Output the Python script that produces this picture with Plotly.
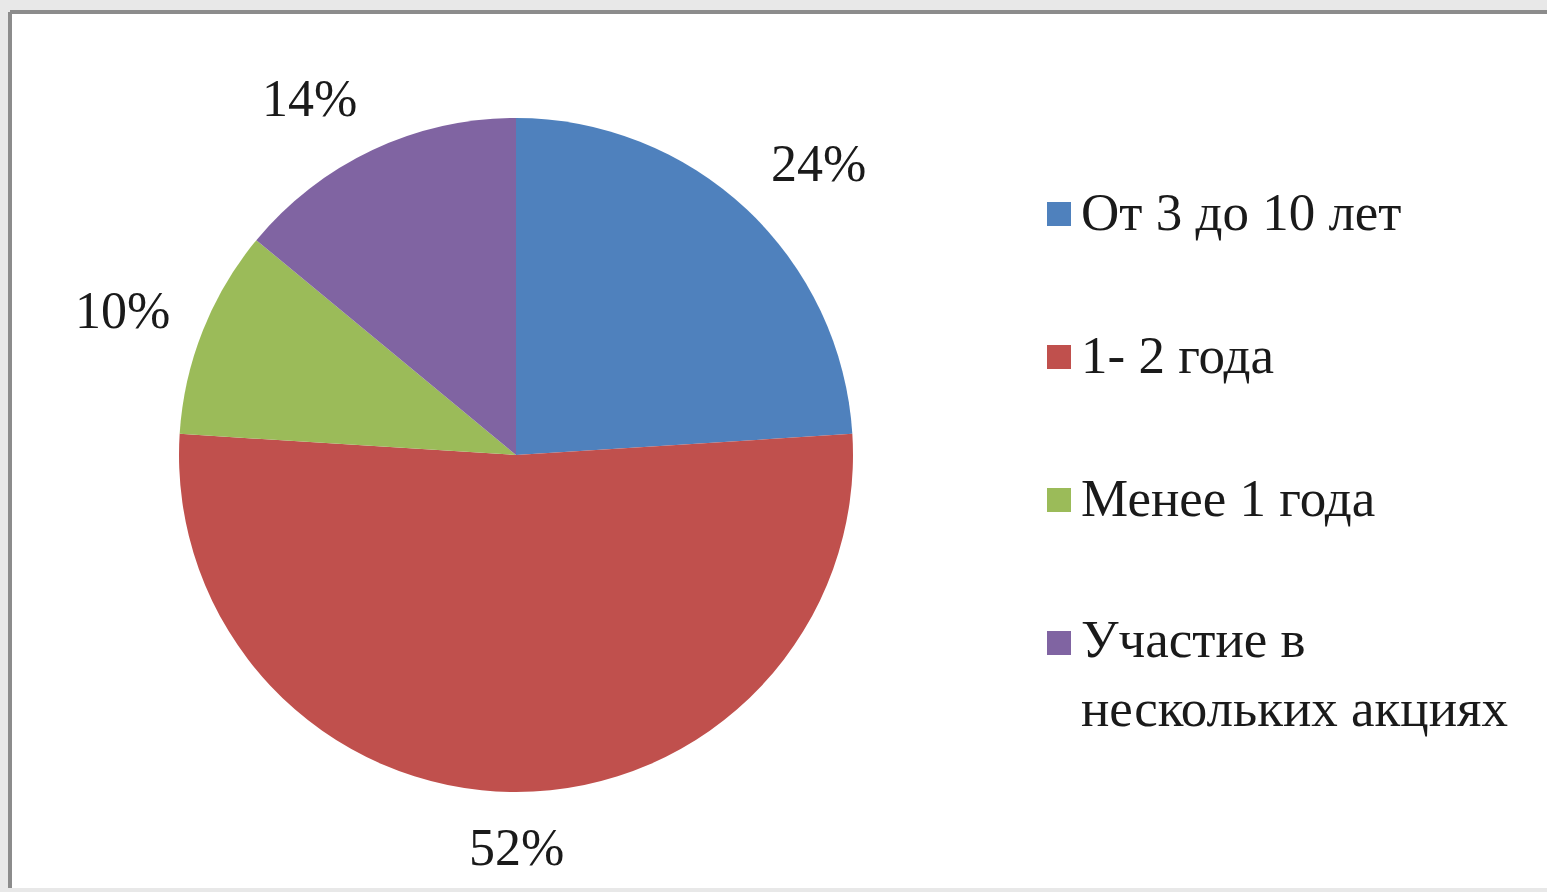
import math
import textwrap
import plotly.graph_objects as go

# ---- data ----
categories = ["От 3 до 10 лет", "1- 2 года", "Менее 1 года", "Участие в нескольких акциях"]
values = [24, 52, 10, 14]
colors = ["#4F81BD", "#C0504D", "#9BBB59", "#8064A2"]

W, H = 1547, 892
FONT = "Liberation Serif, Times New Roman, serif"

# pie geometry (pixels)
cx, cy, R = 516, 455, 337

def px(x):
    return x / W

def py(y):
    return 1 - y / H

fig = go.Figure()
fig.add_trace(go.Pie(
    labels=categories,
    values=values,
    sort=False,
    direction="clockwise",
    rotation=0,
    marker=dict(colors=colors, line=dict(width=0)),
    textinfo="none",
    hoverinfo="label+percent",
    showlegend=False,
    domain=dict(x=[px(cx - R), px(cx + R)], y=[py(cy + R), py(cy - R)]),
))

# background frame
shapes = [
    dict(type="rect", xref="paper", yref="paper", x0=px(11), x1=1.01, y0=py(888), y1=py(13),
         fillcolor="white", line=dict(width=0), layer="below"),
    dict(type="line", xref="paper", yref="paper", x0=px(10), x1=1.01, y0=py(12), y1=py(12),
         line=dict(color="#8c8c8c", width=4)),
    dict(type="line", xref="paper", yref="paper", x0=px(10), x1=px(10), y0=py(888), y1=py(12),
         line=dict(color="#8c8c8c", width=4)),
]

annotations = []
# data labels positioned outside the slices, derived from values
total = sum(values)
lab_size = 52
gap = 35
half_w = 0.5 * 1.833 * lab_size
half_h = 20
cum = 0
for v in values:
    mid = (cum + v / 2) / total * 2 * math.pi
    cum += v
    s, c = math.sin(mid), math.cos(mid)
    txt = f"{round(v / total * 100)}%"
    ex = cx + (R + gap) * s
    ey = cy - (R + gap) * c
    sx = half_w * (0 if abs(s) < 1e-9 else math.copysign(1, s))
    sy = half_h * c / max(abs(s), abs(c))
    annotations.append(dict(
        x=px(ex + sx), y=py(ey - sy), xref="paper", yref="paper",
        text=txt, showarrow=False, xanchor="center", yanchor="middle",
        font=dict(family=FONT, size=lab_size, color="#1a1a1a"),
    ))

# legend (manual, to match spacing and symbol size)
leg_size = 53
leg_x = 1047
sq = 24
first_y = 212
step = 143
line_h = 65
for i, (cat, col) in enumerate(zip(categories, colors)):
    yc = first_y + i * step
    shapes.append(dict(type="rect", xref="paper", yref="paper",
                       x0=px(leg_x), x1=px(leg_x + sq), y0=py(yc + sq / 2 + 2), y1=py(yc - sq / 2 + 2),
                       fillcolor=col, line=dict(width=0)))
    lines = textwrap.wrap(cat, width=18)
    n = len(lines)
    annotations.append(dict(
        x=px(leg_x + sq + 8), y=py(yc + (n - 1) * line_h / 2), xref="paper", yref="paper",
        text="<br>".join(lines), showarrow=False, xanchor="left", yanchor="middle", align="left",
        font=dict(family=FONT, size=leg_size, color="#1a1a1a"),
    ))

fig.update_layout(
    width=W, height=H,
    margin=dict(l=0, r=0, t=0, b=0),
    paper_bgcolor="#e8e8e8",
    plot_bgcolor="white",
    shapes=shapes,
    annotations=annotations,
    showlegend=False,
)

fig.write_html("out.html", config={"displayModeBar": False},
               post_script="document.body.style.margin='0';document.body.style.overflow='hidden';")
